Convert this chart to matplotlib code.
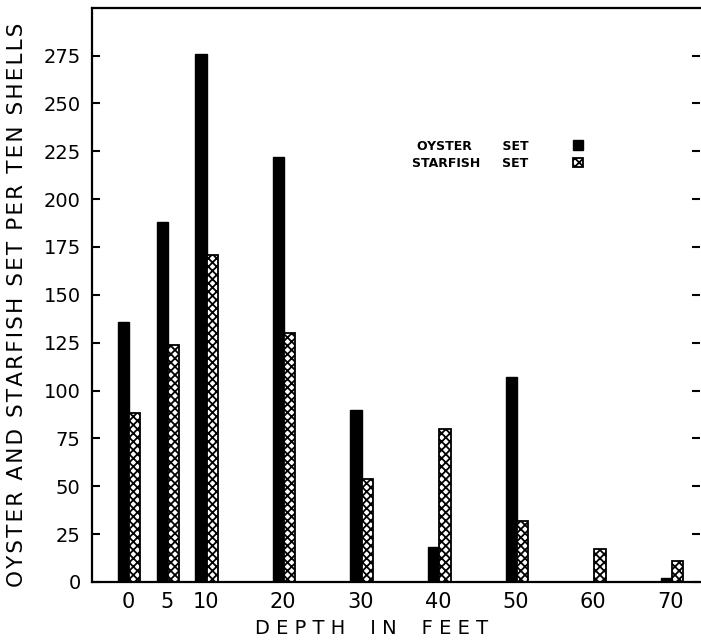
import matplotlib
matplotlib.use("Agg")
import matplotlib.pyplot as plt
import numpy as np

# Depth stations (feet) and set counts per ten shells
depths = [0, 5, 10, 20, 30, 40, 50, 60, 70]
oyster_set = [136, 188, 276, 222, 90, 18, 107, 0, 2]
starfish_set = [88, 124, 171, 130, 54, 80, 32, 17, 11]
y_ticks = [0, 25, 50, 75, 100, 125, 150, 175, 200, 225, 250, 275]

plt.rcParams['hatch.linewidth'] = 1.3
plt.rcParams['font.family'] = ['DejaVu Sans']


def spaced(s, gap='\u200a'):
    """Open up the lettering with hair spaces between characters."""
    return gap.join(s)


fig = plt.figure(figsize=(7.01, 6.43), dpi=100)
ax = fig.add_axes([0.131, 0.095, 0.868, 0.893])

x = np.array(depths, dtype=float)
w = 1.45
split = 0.15  # boundary between the paired bars, relative to the depth
b_oy = ax.bar(x + split - w, oyster_set, width=w, align='edge',
              color='black', edgecolor='black', linewidth=1.0)
b_sf = ax.bar(x + split, starfish_set, width=w, align='edge', color='white',
              edgecolor='black', linewidth=1.3, hatch='xxxx')

ax.set_xlim(-4.65, 73.8)
ax.set_ylim(0, 300)
ax.set_xticks(depths)
ax.set_xticklabels([str(d) for d in depths], fontsize=15)
ax.set_yticks(y_ticks)
ax.set_yticklabels([str(v) for v in y_ticks], fontsize=14)

for side in ['left', 'top', 'bottom']:
    ax.spines[side].set_linewidth(1.6)
ax.spines['right'].set_visible(False)
ax.tick_params(axis='y', direction='in', length=6, width=1.5, left=True,
               right=True, pad=8)
ax.tick_params(axis='x', length=0, pad=7)

ax.set_xlabel('D E P T H    I N    F E E T', fontsize=14)
ax.xaxis.set_label_coords(0.46, -0.065)
ax.set_ylabel(spaced('OYSTER AND STARFISH SET PER TEN SHELLS'), fontsize=15.5)
ax.yaxis.set_label_coords(-0.106, 0.483)

ax.legend([b_oy, b_sf], ['OYSTER       SET', 'STARFISH     SET'],
          markerfirst=False, frameon=False,
          handlelength=0.8, handleheight=0.8, handletextpad=3.6,
          labelspacing=0.35,
          prop={'weight': 'bold', 'size': 9},
          loc='upper left', bbox_to_anchor=(0.508, 0.79))

fig.savefig('out.png', dpi=100)
